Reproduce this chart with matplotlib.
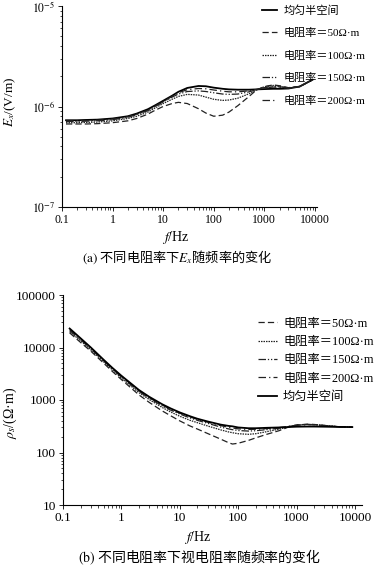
import numpy as np
import matplotlib
matplotlib.use('Agg')
import matplotlib.pyplot as plt
from matplotlib.ticker import FuncFormatter, LogLocator

plt.rcParams['font.family'] = ['Liberation Serif', 'Noto Sans CJK SC']
plt.rcParams['mathtext.fontset'] = 'stix'

# ---- data (a): Ex vs frequency, units 1e-6 V/m
f_a = [0.12, 0.2, 0.3, 0.5, 1, 2, 3, 5, 7, 10, 15, 20, 30, 50, 70, 100,
       150, 200, 300, 500, 700, 1000, 1500, 2000, 3000, 5000, 9000]
ex_half = [0.73, 0.73, 0.735, 0.74, 0.76, 0.80, 0.85, 0.94, 1.03, 1.14, 1.28, 1.40, 1.53, 1.60,
           1.59, 1.54, 1.50, 1.48, 1.47, 1.47, 1.48, 1.49, 1.50, 1.50, 1.51, 1.58, 1.85]
ex_50 = [0.67, 0.67, 0.67, 0.675, 0.69, 0.72, 0.76, 0.84, 0.92, 1.00, 1.07, 1.10, 1.07, 0.95,
         0.86, 0.80, 0.82, 0.88, 1.02, 1.26, 1.46, 1.58, 1.64, 1.61, 1.54, 1.58, 1.85]
ex_100 = [0.69, 0.69, 0.695, 0.70, 0.72, 0.76, 0.80, 0.88, 0.97, 1.07, 1.18, 1.26, 1.32, 1.30,
          1.24, 1.18, 1.15, 1.16, 1.21, 1.34, 1.46, 1.57, 1.62, 1.59, 1.53, 1.58, 1.85]
ex_150 = [0.71, 0.71, 0.715, 0.72, 0.74, 0.78, 0.83, 0.91, 1.00, 1.11, 1.24, 1.33, 1.41, 1.43,
          1.41, 1.37, 1.33, 1.32, 1.33, 1.40, 1.47, 1.54, 1.58, 1.57, 1.53, 1.58, 1.85]
ex_200 = [0.72, 0.72, 0.725, 0.73, 0.75, 0.79, 0.84, 0.92, 1.01, 1.12, 1.26, 1.37, 1.47, 1.51,
          1.50, 1.46, 1.42, 1.40, 1.40, 1.43, 1.48, 1.53, 1.56, 1.55, 1.52, 1.58, 1.85]

# ---- data (b): apparent resistivity vs frequency, ohm*m
f_b = [0.13, 0.2, 0.3, 0.5, 0.7, 1, 2, 3, 5, 7, 10, 15, 20, 30, 50, 70, 80, 100,
       150, 200, 300, 500, 700, 1000, 1500, 2000, 3000, 5000, 9000]
rho_half = [23000, 15000, 10000, 5800, 4100, 2900, 1550, 1150, 830, 690, 580, 490, 440, 390, 340,
            320, 315, 300, 290, 290, 295, 300, 305, 310, 312, 312, 310, 307, 305]
rho_50 = [19000, 12500, 8500, 5000, 3500, 2450, 1250, 900, 620, 500, 400, 320, 280, 230, 180,
          152, 145, 150, 170, 190, 220, 260, 300, 335, 345, 342, 328, 312, 305]
rho_100 = [20000, 13500, 9000, 5300, 3750, 2600, 1380, 1020, 720, 590, 490, 410, 370, 320, 270,
           245, 238, 228, 222, 228, 248, 278, 305, 333, 343, 340, 327, 312, 305]
rho_150 = [21000, 14000, 9500, 5500, 3900, 2750, 1460, 1080, 770, 640, 540, 455, 410, 360, 305,
           280, 272, 262, 256, 260, 272, 290, 310, 332, 342, 339, 326, 311, 305]
rho_200 = [22000, 14500, 9800, 5650, 4000, 2820, 1500, 1110, 800, 665, 560, 475, 428, 378, 325,
           300, 293, 282, 275, 277, 285, 298, 313, 330, 340, 337, 325, 310, 305]

lab_half = '均匀半空间'
lab_50 = '电阻率＝50Ω·m'
lab_100 = '电阻率＝100Ω·m'
lab_150 = '电阻率＝150Ω·m'
lab_200 = '电阻率＝200Ω·m'

st_half = dict(color='black', lw=1.3, ls='-')
st_50 = dict(color='#222222', lw=0.9, ls=(0, (5, 2.5)))
st_100 = dict(color='#222222', lw=0.9, ls=(0, (1.2, 0.8)))
st_150 = dict(color='#222222', lw=0.9, ls=(0, (6, 1.5, 1, 1.5, 1, 1.5)))
st_200 = dict(color='#222222', lw=0.9, ls=(0, (6, 2.5, 1, 2.5)))

fig = plt.figure(figsize=(3.85, 5.66), dpi=100)
W, H = 385.0, 566.0


def style_axes(ax, fs):
    ax.spines['top'].set_visible(False)
    ax.spines['right'].set_visible(False)
    for s in ['left', 'bottom']:
        ax.spines[s].set_linewidth(0.8)
    ax.tick_params(which='major', length=3, width=0.6, labelsize=fs, pad=2)
    ax.tick_params(which='minor', length=1.8, width=0.5)
    ax.xaxis.set_major_formatter(FuncFormatter(lambda v, p: '%g' % v))
    ax.xaxis.set_minor_locator(LogLocator(base=10, subs=np.arange(2, 10)))
    ax.yaxis.set_minor_locator(LogLocator(base=10, subs=np.arange(2, 10)))


# ---- (a)
ax1 = fig.add_axes([62 / W, 1 - 207 / H, (317 - 62) / W, (207 - 6) / H])
ex_scale = 1e-6
ax1.plot(f_a, np.array(ex_half) * ex_scale, label=lab_half, **st_half)
ax1.plot(f_a, np.array(ex_50) * ex_scale, label=lab_50, **st_50)
ax1.plot(f_a, np.array(ex_100) * ex_scale, label=lab_100, **st_100)
ax1.plot(f_a, np.array(ex_150) * ex_scale, label=lab_150, **st_150)
ax1.plot(f_a, np.array(ex_200) * ex_scale, label=lab_200, **st_200)
ax1.set_xscale('log')
ax1.set_yscale('log')
ax1.set_xlim(0.1, 11000)
ax1.set_ylim(1e-7, 1e-5)
style_axes(ax1, 8.5)
ax1.yaxis.set_major_formatter(FuncFormatter(lambda v, p: r'$10^{%d}$' % round(np.log10(v))))
ax1.legend(loc='upper left', bbox_to_anchor=(262 / W, 1 - 5 / H), bbox_transform=fig.transFigure,
           frameon=False, fontsize=8, handlelength=1.35, handletextpad=0.55,
           labelspacing=1.12, borderpad=0, borderaxespad=0)

fig.text(10 / W, 1 - 102 / H, r'$E_x$/(V/m)', rotation=90, ha='center', va='center', fontsize=9.5)
fig.text(176 / W, 1 - 237 / H, r'$f$/Hz', ha='center', va='center', fontsize=10)
fig.text(177 / W, 1 - 257 / H, r'$\mathrm{(a)}$ 不同电阻率下$E_x$随频率的变化',
         ha='center', va='center', fontsize=9.5, family='Noto Sans CJK SC')

# ---- (b)
ax2 = fig.add_axes([63 / W, 1 - 505 / H, (362 - 63) / W, (505 - 295) / H])
ax2.plot(f_b, rho_50, label=lab_50, **st_50)
ax2.plot(f_b, rho_100, label=lab_100, **st_100)
ax2.plot(f_b, rho_150, label=lab_150, **st_150)
ax2.plot(f_b, rho_200, label=lab_200, **st_200)
ax2.plot(f_b, rho_half, label=lab_half, **st_half)
ax2.set_xscale('log')
ax2.set_yscale('log')
ax2.set_xlim(0.1, 13200)
ax2.set_ylim(10, 100000)
style_axes(ax2, 9.5)
ax2.yaxis.set_major_formatter(FuncFormatter(lambda v, p: '%g' % v))
ax2.legend(loc='upper left', bbox_to_anchor=(258 / W, 1 - 317.5 / H), bbox_transform=fig.transFigure,
           frameon=False, fontsize=8.8, handlelength=1.55, handletextpad=0.5,
           labelspacing=0.52, borderpad=0, borderaxespad=0)

fig.text(10 / W, 1 - 413 / H, r'$\rho_s$/(Ω·m)', rotation=90, ha='center', va='center', fontsize=10)
fig.text(198 / W, 1 - 537 / H, r'$f$/Hz', ha='center', va='center', fontsize=10)
fig.text(199 / W, 1 - 557 / H, r'$\mathrm{(b)}$ 不同电阻率下视电阻率随频率的变化',
         ha='center', va='center', fontsize=10, family='Noto Sans CJK SC')

fig.savefig('out.png', dpi=100)
